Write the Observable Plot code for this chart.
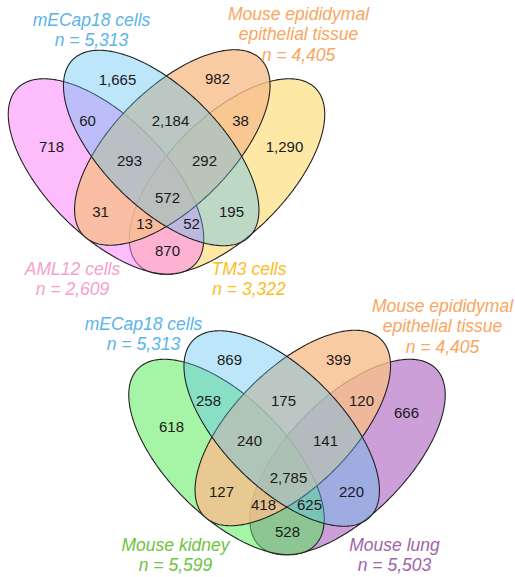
<!DOCTYPE html>
<html><head><meta charset="utf-8">
<script src="https://cdn.jsdelivr.net/npm/d3@7"></script>
<script src="https://cdn.jsdelivr.net/npm/@observablehq/plot@0.6"></script>
<style>html,body{margin:0;padding:0;background:#fff}#chart svg{display:block}</style>
</head><body><div id="chart"></div>
<script>
// ---------- data ----------
// membership key order: [outer-left, inner-left, inner-right, outer-right]
const regionKeys = ["1000","0100","0010","0001","1100","0110","0011","1001","1010","0101","1110","0111","1011","1101","1111"];

const setsTop = ["AML12 cells", "mECap18 cells", "Mouse epididymal\nepithelial tissue", "TM3 cells"];
const sizesTop = [2609, 5313, 4405, 3322];
const countsTop = [718, 1665, 982, 1290, 60, 2184, 38, 870, 31, 195, 293, 292, 13, 52, 572];

const setsBottom = ["Mouse kidney", "mECap18 cells", "Mouse epididymal\nepithelial tissue", "Mouse lung"];
const sizesBottom = [5599, 5313, 4405, 5503];
const countsBottom = [618, 869, 399, 666, 258, 175, 120, 528, 127, 220, 240, 141, 418, 625, 2785];

// ---------- layout & style ----------
const W = 515, H = 577;
const A = 125, B = 59; // ellipse semi-axes
const ellipseTop = [
  {cx: 105.5, cy: 176, angle: 45},
  {cx: 160.7, cy: 147.5, angle: 45},
  {cx: 171.8, cy: 147, angle: 135},
  {cx: 226.5, cy: 176, angle: 135}
];
const shiftBottom = [120.5, 280.5];
const ellipseBottom = ellipseTop.map(e => ({cx: e.cx + shiftBottom[0], cy: e.cy + shiftBottom[1], angle: e.angle}));
const fillsTop = ["#FB7BFB", "#5CC0F2", "#F8BE8C", "#FDD14D"];
const fillsBottom = ["#4DEB4D", "#5CC0F2", "#F8BE8C", "#9A3FB2"];
const opac = [0.5, 0.4, 0.8, 0.5];
const textTop = ["#F5A0CD", "#5AB4EB", "#F9A65F", "#FABE1E"];
const textBottom = ["#6EC33C", "#5AB4EB", "#F9A65F", "#A064AA"];
const drawOrder = [3, 0, 2, 1];

const posTop = {"1000":[51,147],"0100":[117,80],"0010":[217,79],"0001":[284,147],"1100":[87,121],"0110":[170,121],"0011":[240,121],"1001":[167,251],"1010":[100,212],"0101":[231,212],"1110":[129,161],"0111":[204,161],"1011":[144,224],"1101":[191,224],"1111":[167,198]};
const posBottom = {"1000":[171,427],"0100":[229,360],"0010":[338,360],"0001":[406,413],"1100":[208,401],"0110":[283,401],"0011":[361,401],"1001":[287,532],"1010":[221,492],"0101":[351,492],"1110":[249,441],"0111":[325,441],"1011":[263,505],"1101":[309,505],"1111":[288,478]};

// set-name label anchors: [x, y of first line]
const nameTop = [[72, 269], [91, 20], [298, 14], [248.5, 269]];
const nameBottom = [[175, 545], [143, 324], [442, 306], [394, 545]];
const lineGap = 20.3;

const fmt = d3.format(",");

function ellipsePts(e, id) {
  const th = e.angle * Math.PI / 180, pts = [];
  for (let i = 0; i < 360; i++) {
    const t = i * Math.PI / 180;
    pts.push({id,
      x: e.cx + A * Math.cos(t) * Math.cos(th) - B * Math.sin(t) * Math.sin(th),
      y: e.cy + A * Math.cos(t) * Math.sin(th) + B * Math.sin(t) * Math.cos(th)});
  }
  return pts;
}

function vennMarks(ellipses, fills, sets, sizes, counts, pos, names, tcols) {
  const marks = [];
  for (const i of drawOrder) {
    marks.push(Plot.line(ellipsePts(ellipses[i], i), {
      x: "x", y: "y", curve: "linear-closed",
      fill: fills[i], fillOpacity: opac[i],
      stroke: "#222", strokeWidth: 1.1
    }));
  }
  const regions = regionKeys.map((k, j) => ({key: k, value: counts[j], x: pos[k][0], y: pos[k][1]}));
  marks.push(Plot.text(regions, {x: "x", y: "y", text: d => fmt(d.value),
    fontSize: 15, fill: "#1a1a1a", fontFamily: "Liberation Sans, Arial, sans-serif"}));
  const lines = [];
  sets.forEach((s, i) => {
    const ls = s.split("\n").concat(`n = ${fmt(sizes[i])}`);
    ls.forEach((t, j) => lines.push({t, x: names[i][0], y: names[i][1] + j * lineGap, c: tcols[i]}));
  });
  marks.push(Plot.text(lines, {x: "x", y: "y", text: "t", fill: d => d.c,
    fontSize: 17.5, fontStyle: "italic", fontFamily: "Liberation Sans, Arial, sans-serif"}));
  return marks;
}

const chart = Plot.plot({
  width: W, height: H,
  margin: 0,
  x: {domain: [0, W], range: [0, W], axis: null},
  y: {domain: [0, H], range: [0, H], axis: null},
  style: {background: "#fff"},
  marks: [
    ...vennMarks(ellipseTop, fillsTop, setsTop, sizesTop, countsTop, posTop, nameTop, textTop),
    ...vennMarks(ellipseBottom, fillsBottom, setsBottom, sizesBottom, countsBottom, posBottom, nameBottom, textBottom)
  ]
});
document.getElementById("chart").appendChild(chart);
</script>
</body></html>
